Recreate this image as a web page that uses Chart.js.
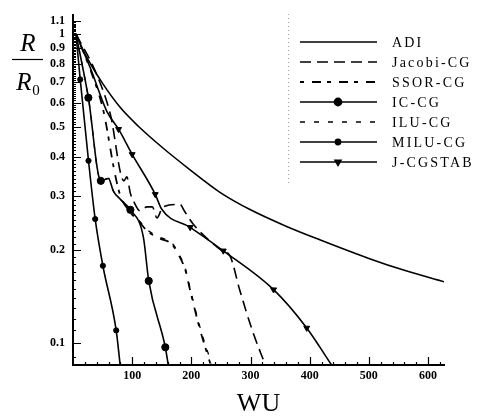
<!DOCTYPE html>
<html>
<head>
<meta charset="utf-8">
<script src="https://cdn.jsdelivr.net/npm/chart.js@4.4.1/dist/chart.umd.min.js"></script>
<style>
  html, body { margin: 0; padding: 0; background: #fff; }
  canvas { display: block; }
</style>
</head>
<body>
<canvas id="chart" width="477" height="417"></canvas>
<script>
// tick labels
const xTicks = [100, 200, 300, 400, 500, 600];
const yTicks = [0.1, 0.2, 0.3, 0.4, 0.5, 0.6, 0.7, 0.8, 0.9, 1, 1.1];

// series (x = WU, y = R/R0)
const adiX = [5, 15, 30, 50, 80, 110, 150, 200, 249, 300, 360, 417, 500, 560, 627];
const adiY = [1.0, 0.902, 0.798, 0.692, 0.578, 0.504, 0.431, 0.361, 0.307, 0.270, 0.239, 0.216, 0.188, 0.172, 0.158];

const jacobiX = [5, 40, 63, 86, 91, 97, 102, 113, 125, 134, 142, 152, 181, 188, 203, 235, 252, 265, 282, 303, 325];
const jacobiY = [1.0, 0.74, 0.551, 0.335, 0.345, 0.305, 0.289, 0.268, 0.276, 0.276, 0.254, 0.276, 0.281, 0.268, 0.243, 0.211, 0.199, 0.192, 0.148, 0.110, 0.085];

const ssorX = [5, 30, 51.5, 71, 80, 97, 113.5, 125, 147, 167, 181, 190, 198, 215, 232];
const ssorY = [1.0, 0.76, 0.563, 0.352, 0.30, 0.265, 0.245, 0.231, 0.218, 0.209, 0.189, 0.172, 0.148, 0.110, 0.086];

const icX = [5, 26, 47, 60, 68, 80, 97, 119, 128, 156, 161];
const icY = [1.0, 0.622, 0.335, 0.341, 0.311, 0.292, 0.27, 0.22, 0.159, 0.097, 0.085];
const icMarks = [1, 2, 6, 8, 9];

const iluX = [5, 26, 47, 60, 68, 80, 97, 113.5, 125, 147, 167, 181, 190, 198, 215, 234];
const iluY = [1.0, 0.622, 0.335, 0.341, 0.311, 0.292, 0.27, 0.247, 0.233, 0.220, 0.211, 0.191, 0.174, 0.150, 0.112, 0.086];

const miluX = [5, 12.2, 26.2, 37.5, 50.5, 73, 79.7];
const miluY = [1.0, 0.713, 0.389, 0.252, 0.178, 0.11, 0.085];
const miluMarks = [1, 2, 3, 4, 5];

const jcgX = [5, 30, 57, 77, 100, 139, 150, 198, 254, 339, 395, 437];
const jcgY = [1.0, 0.77, 0.563, 0.492, 0.408, 0.303, 0.271, 0.237, 0.199, 0.149, 0.112, 0.085];
const jcgMarks = [3, 4, 5, 7, 8, 9, 10];

function series(label, xs, ys, style) {
    const marks = style.marks || [];
    return Object.assign({
        label: label,
        data: xs.map((x, i) => ({x: x, y: ys[i]})),
        borderColor: '#000',
        backgroundColor: '#000',
        borderWidth: 1.6,
        borderDash: [],
        fill: false,
        cubicInterpolationMode: 'monotone',
        pointStyle: 'circle',
        pointRotation: 0,
        markerSize: 0,
        pointRadius: ctx => marks.includes(ctx.dataIndex) ? style.markerSize : 0,
        pointBorderWidth: 1,
        pointHoverRadius: 0
    }, style);
}

const datasets = [
    series('ADI', adiX, adiY, {}),
    series('Jacobi-CG', jacobiX, jacobiY, {borderDash: [11, 6]}),
    series('SSOR-CG', ssorX, ssorY, {borderDash: [4, 8, 9, 6], borderWidth: 1.8}),
    series('IC-CG', icX, icY, {marks: icMarks, markerSize: 3.6}),
    series('ILU-CG', iluX, iluY, {borderDash: [5, 9], borderWidth: 1.3}),
    series('MILU-CG', miluX, miluY, {marks: miluMarks, markerSize: 2.6}),
    series('J-CGSTAB', jcgX, jcgY, {marks: jcgMarks, markerSize: 3.4, pointStyle: 'triangle', pointRotation: 180})
];

// ticks pointing into the plot, with minor ticks
const inwardTicks = {
    id: 'inwardTicks',
    afterDraw(chart) {
        const {ctx, chartArea: a, scales: {x, y}} = chart;
        ctx.save();
        ctx.strokeStyle = '#000';
        ctx.lineWidth = 1.2;
        ctx.beginPath();
        for (let k = 9; k <= 110; k++) {
            const v = k / 100;
            const py = Math.round(y.getPixelForValue(v)) + 0.5;
            const major = yTicks.some(t => Math.abs(t - v) < 1e-9);
            ctx.moveTo(a.left, py);
            ctx.lineTo(a.left + (major ? 8 : 3), py);
        }
        for (let v = 20; v <= 620; v += 20) {
            const px = Math.round(x.getPixelForValue(v)) + 0.5;
            const major = xTicks.includes(v);
            ctx.moveTo(px, a.bottom);
            ctx.lineTo(px, a.bottom - (major ? 8 : 3));
        }
        ctx.stroke();
        ctx.restore();
    }
};

// R / R0 fraction as the y title
const fracTitle = {
    id: 'fracTitle',
    afterDraw(chart) {
        const ctx = chart.ctx;
        ctx.save();
        ctx.fillStyle = '#000';
        ctx.strokeStyle = '#000';
        ctx.textAlign = 'center';
        ctx.textBaseline = 'alphabetic';
        ctx.font = 'italic 25px "Liberation Serif"';
        ctx.fillText('R', 28, 51);
        ctx.lineWidth = 1.2;
        ctx.beginPath();
        ctx.moveTo(12, 59.5);
        ctx.lineTo(43, 59.5);
        ctx.stroke();
        ctx.fillText('R', 24, 90);
        ctx.font = '15px "Liberation Serif"';
        ctx.fillText('0', 36, 95);
        ctx.restore();
    }
};

// legend box at the upper right, inside the plot
const sideLegend = {
    id: 'sideLegend',
    afterDraw(chart) {
        const ctx = chart.ctx;
        ctx.save();
        ctx.strokeStyle = '#aaa';
        ctx.lineWidth = 1;
        ctx.setLineDash([1, 3]);
        ctx.beginPath();
        ctx.moveTo(288.5, 14);
        ctx.lineTo(288.5, 186);
        ctx.stroke();
        chart.data.datasets.forEach((ds, i) => {
            const ly = 42 + i * 20;
            ctx.strokeStyle = '#000';
            ctx.fillStyle = '#000';
            ctx.lineWidth = ds.borderWidth;
            ctx.setLineDash(ds.borderDash);
            ctx.beginPath();
            ctx.moveTo(300, ly);
            ctx.lineTo(377, ly);
            ctx.stroke();
            ctx.setLineDash([]);
            if (ds.markerSize) {
                Chart.helpers.drawPoint(ctx, {
                    pointStyle: ds.pointStyle, rotation: ds.pointRotation,
                    radius: ds.markerSize, borderWidth: 1
                }, 338, ly);
            }
            ctx.font = '14px "Liberation Serif"';
            ctx.letterSpacing = '2.2px';
            ctx.textBaseline = 'middle';
            ctx.textAlign = 'left';
            ctx.fillText(ds.label, 392, ly + 1);
        });
        ctx.restore();
    }
};

const tickFont = {family: '"Liberation Serif"', size: 12, weight: 'bold'};

new Chart(document.getElementById('chart').getContext('2d'), {
    type: 'line',
    data: {datasets: datasets},
    options: {
        responsive: false,
        animation: false,
        devicePixelRatio: 1,
        layout: {padding: {top: 13, right: 33, left: 0, bottom: 0}},
        plugins: {legend: {display: false}, tooltip: {enabled: false}},
        scales: {
            x: {
                type: 'linear',
                min: 0,
                max: 627,
                grid: {display: false, drawTicks: false},
                border: {display: true, color: '#000', width: 2},
                afterBuildTicks: s => { s.ticks = xTicks.map(v => ({value: v})); },
                afterFit: s => { s.height = 52; },
                ticks: {color: '#000', font: tickFont, padding: 4, maxRotation: 0, autoSkip: false,
                        callback: v => String(v)},
                title: {display: true, text: 'WU', color: '#000',
                        font: {family: '"Liberation Serif"', size: 26, lineHeight: 1},
                        padding: {top: 0, bottom: 0}}
            },
            y: {
                type: 'logarithmic',
                min: 0.085,
                max: 1.15,
                grid: {display: false, drawTicks: false},
                border: {display: true, color: '#000', width: 2},
                afterBuildTicks: s => { s.ticks = yTicks.map(v => ({value: v})); },
                afterFit: s => { s.width = 73; },
                ticks: {color: '#000', font: tickFont, padding: 8, autoSkip: false,
                        callback: v => String(v)}
            }
        }
    },
    plugins: [inwardTicks, fracTitle, sideLegend]
});
</script>
</body>
</html>
